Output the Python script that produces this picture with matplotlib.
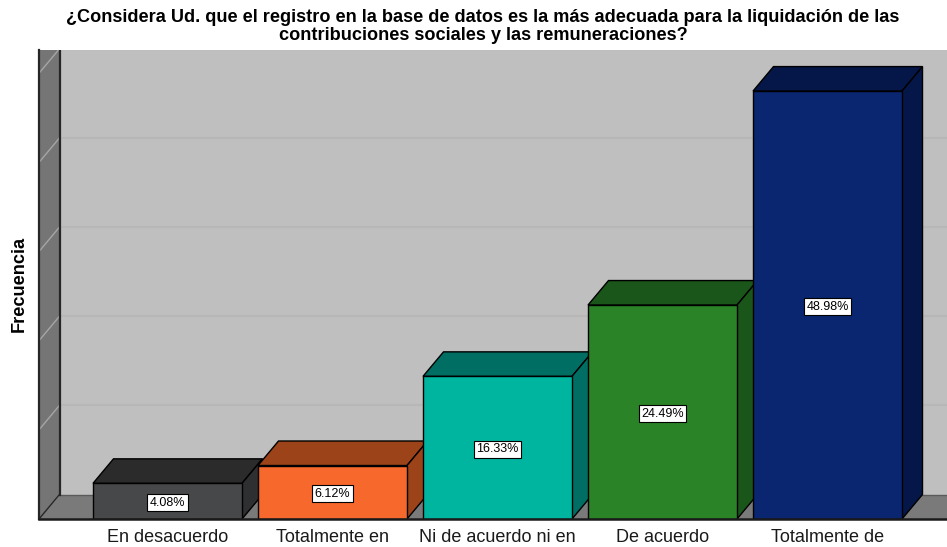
import numpy as np
import matplotlib
matplotlib.use("Agg")
import matplotlib.pyplot as plt

plt.rcParams['font.family'] = ['Liberation Sans', 'DejaVu Sans']

title = ("¿Considera Ud. que el registro en la base de datos es la más adecuada para la liquidación de las\n"
         "contribuciones sociales y las remuneraciones?")
categories = ["En desacuerdo", "Totalmente en", "Ni de acuerdo ni en", "De acuerdo", "Totalmente de"]
counts = [2, 3, 8, 12, 24]
pct_labels = ["4.08%", "6.12%", "16.33%", "24.49%", "48.98%"]
front_colors = ["#47484a", "#f6682c", "#00b5a0", "#2a8427", "#0a2670"]
top_colors = ["#2b2b2b", "#9c4319", "#006e62", "#1a5519", "#051748"]
side_colors = ["#2e2f30", "#9c4319", "#006e62", "#1a5519", "#051748"]
grid_ticks = [5, 10, 15, 20, 25]

W, H = 947, 547
fig = plt.figure(figsize=(W / 100, H / 100), dpi=100)
ax = fig.add_axes([39 / W, (H - 519) / H, (W - 39) / W, 469 / H])

bar_w = 149 / 165
ax.set_xlim((39 - 167.5) / 165, (W - 167.5) / 165)
ax.set_ylim(0, 469 / 17.83)
ax.set_facecolor("#bfbfbf")

# depth of the 3D effect, in data units
dx = 20.5 / 165
dy = 24.5 / 17.83
x0, x1 = ax.get_xlim()
y0, y1 = ax.get_ylim()
edge = "#262626"

# back wall grid
for t in grid_ticks:
    ax.plot([x0 + dx, x1], [t + dy, t + dy], color="#b7b7b7", lw=1.5, zorder=1)

# floor and left wall
ax.fill([x0, x1, x1, x0 + dx], [0, 0, dy, dy], fc="#7a7a7a", ec="none", zorder=2)
ax.plot([x0 + dx, x1], [dy, dy], color="#5a5a5a", lw=1, zorder=2)
ax.fill([x0, x0 + dx, x0 + dx, x0], [0, dy, y1 + dy, y1], fc="#757575", ec="none", zorder=2)
for t in grid_ticks:
    ax.plot([x0, x0 + dx], [t, t + dy], color="#a6a6a6", lw=1, zorder=2)
ax.plot([x0 + dx, x0 + dx], [dy, y1], color=edge, lw=1.6, zorder=3)
ax.plot([x0, x0 + dx], [0, dy], color=edge, lw=1, zorder=3)
ax.plot([x0, x0], [0, y1], color=edge, lw=1.6, zorder=3, clip_on=False)

# bars, left to right so each one covers the side of the previous
for i, c in enumerate(counts):
    z = 4 + i
    l, r = i - bar_w / 2, i + bar_w / 2
    ax.fill([l, r, r + dx, l + dx], [c, c, c + dy, c + dy], fc=top_colors[i], ec="black", lw=1, zorder=z)
    ax.fill([r, r + dx, r + dx, r], [0, dy, c + dy, c], fc=side_colors[i], ec="black", lw=1, zorder=z)
    ax.bar(i, c, width=bar_w, color=front_colors[i], edgecolor="black", lw=1, zorder=z)
    ax.text(i, c / 2, pct_labels[i], ha="center", va="center_baseline", fontsize=9, zorder=20,
            bbox=dict(boxstyle="square,pad=0.2", fc="white", ec="black", lw=0.8))

ax.plot([x0, x1], [0, 0], color="#1a1a1a", lw=1.8, zorder=15, clip_on=False)

ax.set_xticks(range(len(categories)))
ax.set_xticklabels(categories, fontsize=13, color="#1a1a1a")
ax.tick_params(axis="x", length=0, pad=7)
ax.set_yticks([])
for s in ax.spines.values():
    s.set_visible(False)

fig.text(483 / W, 1 - 26.5 / H, title, ha="center", va="center", fontsize=13.05,
         fontweight="bold", linespacing=1.03)
fig.text(19 / W, 1 - 283.5 / H, "Frecuencia", rotation=90, ha="center", va="center",
         fontsize=13.1, fontweight="bold")

fig.savefig("out.png", dpi=100)
